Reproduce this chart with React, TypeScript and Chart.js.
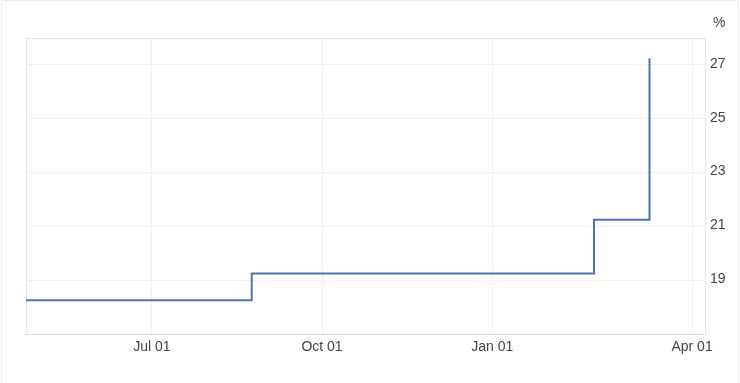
import React, { useEffect, useRef } from "react";
import { Chart, registerables } from "chart.js";

Chart.register(...registerables);

// Step change dates and rate levels (%)
const stepDates = ["2023-04-24", "2023-08-24", "2024-02-25", "2024-03-26"];
const rateValues = [18.25, 19.25, 21.25, 27.25];

// X axis extent and ticks
const xStart = "2023-04-24";
const xEnd = "2024-04-25";
const xTickDates = ["2023-07-01", "2023-10-01", "2024-01-01", "2024-04-18"];
const xTickLabels = ["Jul 01", "Oct 01", "Jan 01", "Apr 01"];

// Y axis ticks
const yTicks = [19, 21, 23, 25, 27];
const yMin = 17;
const yMax = 28;
const unitLabel = "%";

const day = (s: string) => Date.parse(s + "T00:00:00Z") / 864e5;

export default function App() {
  const ref = useRef<HTMLCanvasElement | null>(null);

  useEffect(() => {
    document.body.style.margin = "0";
    const canvas = ref.current;
    if (!canvas) return;

    const framePlugin = {
      id: "frame",
      beforeDatasetsDraw(chart: any) {
        const { ctx, chartArea } = chart;
        ctx.save();
        ctx.lineWidth = 1;
        ctx.strokeStyle = "#e6e6e6";
        ctx.beginPath();
        ctx.moveTo(Math.round(chartArea.left) + 0.5, Math.round(chartArea.bottom));
        ctx.lineTo(Math.round(chartArea.left) + 0.5, Math.round(chartArea.top) + 0.5);
        ctx.lineTo(Math.round(chartArea.right) + 0.5, Math.round(chartArea.top) + 0.5);
        ctx.stroke();
        ctx.restore();
      },
      afterDraw(chart: any) {
        const { ctx, chartArea, width } = chart;
        ctx.save();
        ctx.strokeStyle = "#eeeeee";
        ctx.lineWidth = 1;
        ctx.beginPath();
        ctx.moveTo(1.5, chart.height);
        ctx.lineTo(1.5, 0.5);
        ctx.lineTo(width - 1.5, 0.5);
        ctx.lineTo(width - 1.5, chart.height);
        ctx.stroke();
        ctx.fillStyle = "#444";
        ctx.font = "14px 'Liberation Sans', Arial, sans-serif";
        ctx.textAlign = "left";
        ctx.textBaseline = "middle";
        ctx.fillText(unitLabel, chartArea.right + 8, 23);
        ctx.restore();
      },
    };

    const chart = new Chart(canvas, {
      type: "line",
      data: {
        datasets: [
          {
            data: stepDates.map((d, i) => ({ x: day(d), y: rateValues[i] })),
            borderColor: "#4a77b4",
            borderWidth: 2,
            pointRadius: 0,
            stepped: "before",
            fill: false,
          },
        ],
      },
      options: {
        animation: false,
        responsive: false,
        maintainAspectRatio: false,
        layout: { padding: { left: 26, top: 38, right: 0, bottom: 0 } },
        plugins: {
          legend: { display: false },
          tooltip: { enabled: false },
        },
        scales: {
          x: {
            type: "linear",
            min: day(xStart),
            max: day(xEnd),
            afterBuildTicks: (scale: any) => {
              scale.ticks = xTickDates.map((d) => ({ value: day(d) }));
            },
            afterFit: (scale: any) => {
              scale.height = 49;
            },
            grid: {
              color: "#f0f0f0",
              drawTicks: false,
            },
            border: { color: "#dddddd" },
            ticks: {
              padding: 5,
              maxRotation: 0,
              autoSkip: false,
              color: "#444",
              font: { family: "'Liberation Sans', Arial, sans-serif", size: 14 },
              callback: (v: any) => {
                const i = xTickDates.findIndex((d) => Math.abs(day(d) - v) < 0.01);
                return i >= 0 ? xTickLabels[i] : "";
              },
            },
          },
          y: {
            position: "right",
            min: yMin,
            max: yMax,
            afterBuildTicks: (scale: any) => {
              scale.ticks = yTicks.map((v) => ({ value: v }));
            },
            afterFit: (scale: any) => {
              scale.width = 35;
            },
            grid: {
              color: "#f0f0f0",
              drawTicks: false,
            },
            border: { color: "#e6e6e6" },
            ticks: {
              padding: 5,
              labelOffset: -1,
              color: "#444",
              font: { family: "'Liberation Sans', Arial, sans-serif", size: 14 },
              callback: (v: any) => String(v),
            },
          },
        },
      },
      plugins: [framePlugin],
    });

    return () => chart.destroy();
  }, []);

  return (
    <div style={{ position: "absolute", left: 0, top: 0, width: 740, height: 383, background: "#fff" }}>
      <canvas ref={ref} width={740} height={383} style={{ width: 740, height: 383, display: "block" }} />
    </div>
  );
}
